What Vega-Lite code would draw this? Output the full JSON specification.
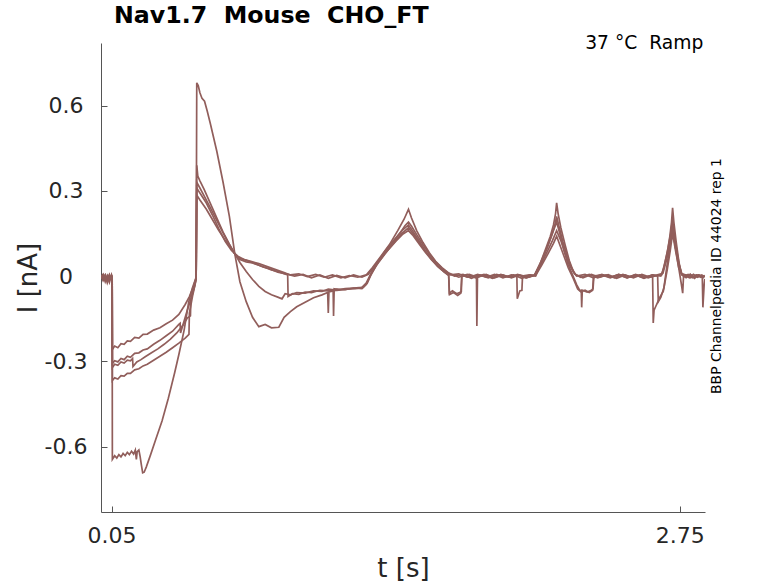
{
  "$schema": "https://vega.github.io/schema/vega-lite/v6.json",
  "autosize": "none",
  "padding": {"left": 101, "top": 43, "right": 73, "bottom": 71},
  "width": 604,
  "height": 469,
  "background": "white",
  "title": {
    "text": "Nav1.7\u00a0 Mouse\u00a0 CHO_FT",
    "anchor": "start",
    "frame": "group",
    "dx": 13,
    "offset": -13,
    "baseline": "alphabetic",
    "font": "DejaVu Sans",
    "fontSize": 23.7,
    "fontWeight": "bold",
    "color": "#000000"
  },
  "config": {
    "view": {"stroke": null},
    "axis": {
      "grid": false,
      "domainColor": "#555555",
      "tickColor": "#555555",
      "tickSize": -6,
      "labelFont": "DejaVu Sans",
      "labelFontSize": 22,
      "labelColor": "#262626",
      "titleFont": "DejaVu Sans",
      "titleFontSize": 26,
      "titleFontWeight": "normal",
      "titleColor": "#262626"
    }
  },
  "datasets": {
    "traces": [
      {"s":"A","t":0,"v":0.002},{"s":"A","t":0.01,"v":-0.012},{"s":"A","t":0.02,"v":0.004},{"s":"A","t":0.03,"v":-0.018},{"s":"A","t":0.04,"v":0.002},{"s":"A","t":0.05,"v":-0.008},{"s":"A","t":0.053,"v":0},
      {"s":"A","t":0.054,"v":-0.258},{"s":"A","t":0.065,"v":-0.246},{"s":"A","t":0.08,"v":-0.252},{"s":"A","t":0.095,"v":-0.238},{"s":"A","t":0.11,"v":-0.24},{"s":"A","t":0.125,"v":-0.228},{"s":"A","t":0.14,"v":-0.23},{"s":"A","t":0.16,"v":-0.216},{"s":"A","t":0.18,"v":-0.218},{"s":"A","t":0.2,"v":-0.205},{"s":"A","t":0.22,"v":-0.204},{"s":"A","t":0.25,"v":-0.19},{"s":"A","t":0.28,"v":-0.182},{"s":"A","t":0.31,"v":-0.168},{"s":"A","t":0.34,"v":-0.155},{"s":"A","t":0.37,"v":-0.135},{"s":"A","t":0.4,"v":-0.1},{"s":"A","t":0.42,"v":-0.072},{"s":"A","t":0.44,"v":-0.035},{"s":"A","t":0.452,"v":-0.005},
      {"s":"A","t":0.455,"v":0.31},{"s":"A","t":0.47,"v":0.292},{"s":"A","t":0.5,"v":0.258},{"s":"A","t":0.53,"v":0.214},{"s":"A","t":0.56,"v":0.166},{"s":"A","t":0.59,"v":0.122},{"s":"A","t":0.62,"v":0.09},{"s":"A","t":0.65,"v":0.07},{"s":"A","t":0.68,"v":0.058},{"s":"A","t":0.71,"v":0.05},{"s":"A","t":0.74,"v":0.042},{"s":"A","t":0.77,"v":0.032},{"s":"A","t":0.8,"v":0.026},{"s":"A","t":0.84,"v":0.014},{"s":"A","t":0.88,"v":0.008},{"s":"A","t":0.92,"v":0},{"s":"A","t":0.96,"v":0.006},{"s":"A","t":1,"v":-0.006},{"s":"A","t":1.04,"v":0.004},{"s":"A","t":1.08,"v":-0.008},{"s":"A","t":1.12,"v":0.002},{"s":"A","t":1.16,"v":-0.006},{"s":"A","t":1.2,"v":0.004},{"s":"A","t":1.24,"v":-0.004},{"s":"A","t":1.27,"v":0.006},
      {"s":"A","t":1.3,"v":0.035},{"s":"A","t":1.34,"v":0.075},{"s":"A","t":1.38,"v":0.112},{"s":"A","t":1.42,"v":0.15},{"s":"A","t":1.445,"v":0.178},{"s":"A","t":1.461,"v":0.19},{"s":"A","t":1.475,"v":0.176},{"s":"A","t":1.5,"v":0.146},{"s":"A","t":1.53,"v":0.11},{"s":"A","t":1.56,"v":0.078},{"s":"A","t":1.59,"v":0.05},{"s":"A","t":1.62,"v":0.028},{"s":"A","t":1.65,"v":0.01},{"s":"A","t":1.68,"v":0},
      {"s":"A","t":1.72,"v":0.006},{"s":"A","t":1.76,"v":-0.008},{"s":"A","t":1.8,"v":0.004},{"s":"A","t":1.84,"v":-0.006},{"s":"A","t":1.88,"v":0.006},{"s":"A","t":1.92,"v":-0.004},{"s":"A","t":1.96,"v":0.004},{"s":"A","t":2,"v":-0.008},{"s":"A","t":2.04,"v":0.004},{"s":"A","t":2.065,"v":0},
      {"s":"A","t":2.09,"v":0.045},{"s":"A","t":2.115,"v":0.09},{"s":"A","t":2.14,"v":0.14},{"s":"A","t":2.155,"v":0.175},{"s":"A","t":2.165,"v":0.21},{"s":"A","t":2.175,"v":0.178},{"s":"A","t":2.195,"v":0.12},{"s":"A","t":2.215,"v":0.07},{"s":"A","t":2.235,"v":0.03},{"s":"A","t":2.255,"v":0.005},
      {"s":"A","t":2.29,"v":-0.006},{"s":"A","t":2.33,"v":0.006},{"s":"A","t":2.37,"v":-0.004},{"s":"A","t":2.41,"v":0.005},{"s":"A","t":2.45,"v":-0.008},{"s":"A","t":2.49,"v":0.004},{"s":"A","t":2.53,"v":-0.006},{"s":"A","t":2.57,"v":0.006},{"s":"A","t":2.61,"v":-0.004},{"s":"A","t":2.65,"v":0.003},{"s":"A","t":2.665,"v":0.005},
      {"s":"A","t":2.68,"v":0.05},{"s":"A","t":2.695,"v":0.1},{"s":"A","t":2.707,"v":0.15},{"s":"A","t":2.716,"v":0.2},{"s":"A","t":2.725,"v":0.14},{"s":"A","t":2.738,"v":0.08},{"s":"A","t":2.75,"v":0.03},{"s":"A","t":2.76,"v":0.005},{"s":"A","t":2.78,"v":-0.006},{"s":"A","t":2.8,"v":0.006},{"s":"A","t":2.82,"v":-0.008},{"s":"A","t":2.84,"v":0.004},{"s":"A","t":2.86,"v":-0.006},{"s":"A","t":2.868,"v":0},

      {"s":"B","t":0,"v":-0.004},{"s":"B","t":0.01,"v":0.006},{"s":"B","t":0.02,"v":-0.014},{"s":"B","t":0.03,"v":0},{"s":"B","t":0.04,"v":-0.022},{"s":"B","t":0.05,"v":0.004},{"s":"B","t":0.053,"v":-0.004},
      {"s":"B","t":0.054,"v":-0.308},{"s":"B","t":0.065,"v":-0.298},{"s":"B","t":0.08,"v":-0.302},{"s":"B","t":0.095,"v":-0.29},{"s":"B","t":0.11,"v":-0.294},{"s":"B","t":0.125,"v":-0.282},{"s":"B","t":0.14,"v":-0.286},{"s":"B","t":0.16,"v":-0.272},{"s":"B","t":0.18,"v":-0.27},{"s":"B","t":0.2,"v":-0.26},{"s":"B","t":0.22,"v":-0.256},{"s":"B","t":0.25,"v":-0.24},{"s":"B","t":0.28,"v":-0.226},{"s":"B","t":0.31,"v":-0.21},{"s":"B","t":0.34,"v":-0.194},{"s":"B","t":0.37,"v":-0.17},{"s":"B","t":0.376,"v":-0.166},{"s":"B","t":0.378,"v":-0.2},{"s":"B","t":0.39,"v":-0.17},{"s":"B","t":0.41,"v":-0.12},{"s":"B","t":0.43,"v":-0.075},{"s":"B","t":0.445,"v":-0.035},{"s":"B","t":0.452,"v":-0.008},
      {"s":"B","t":0.455,"v":0.39},{"s":"B","t":0.46,"v":0.352},{"s":"B","t":0.47,"v":0.335},{"s":"B","t":0.49,"v":0.305},{"s":"B","t":0.52,"v":0.255},{"s":"B","t":0.55,"v":0.205},{"s":"B","t":0.58,"v":0.155},{"s":"B","t":0.61,"v":0.112},{"s":"B","t":0.636,"v":0.078},{"s":"B","t":0.66,"v":0.062},{"s":"B","t":0.69,"v":0.056},{"s":"B","t":0.72,"v":0.05},{"s":"B","t":0.75,"v":0.044},{"s":"B","t":0.78,"v":0.036},{"s":"B","t":0.81,"v":0.028},{"s":"B","t":0.84,"v":0.02},{"s":"B","t":0.87,"v":0.012},{"s":"B","t":0.9,"v":0.004},{"s":"B","t":0.94,"v":0.008},{"s":"B","t":0.98,"v":-0.002},{"s":"B","t":1.02,"v":0.006},{"s":"B","t":1.06,"v":-0.004},{"s":"B","t":1.1,"v":0.004},{"s":"B","t":1.14,"v":-0.006},{"s":"B","t":1.18,"v":0.002},{"s":"B","t":1.22,"v":-0.004},{"s":"B","t":1.26,"v":0.004},
      {"s":"B","t":1.29,"v":0.03},{"s":"B","t":1.33,"v":0.07},{"s":"B","t":1.37,"v":0.11},{"s":"B","t":1.41,"v":0.16},{"s":"B","t":1.44,"v":0.2},{"s":"B","t":1.461,"v":0.235},{"s":"B","t":1.475,"v":0.205},{"s":"B","t":1.5,"v":0.16},{"s":"B","t":1.53,"v":0.118},{"s":"B","t":1.56,"v":0.082},{"s":"B","t":1.59,"v":0.052},{"s":"B","t":1.62,"v":0.03},{"s":"B","t":1.65,"v":0.012},{"s":"B","t":1.68,"v":0.002},
      {"s":"B","t":1.7,"v":-0.004},{"s":"B","t":1.74,"v":0.006},{"s":"B","t":1.78,"v":-0.006},{"s":"B","t":1.82,"v":0.004},{"s":"B","t":1.86,"v":-0.008},{"s":"B","t":1.9,"v":0.004},{"s":"B","t":1.94,"v":-0.004},{"s":"B","t":1.98,"v":0.006},{"s":"B","t":2.02,"v":-0.006},{"s":"B","t":2.06,"v":0.002},
      {"s":"B","t":2.085,"v":0.04},{"s":"B","t":2.11,"v":0.09},{"s":"B","t":2.135,"v":0.14},{"s":"B","t":2.15,"v":0.18},{"s":"B","t":2.16,"v":0.22},{"s":"B","t":2.165,"v":0.258},{"s":"B","t":2.172,"v":0.22},{"s":"B","t":2.185,"v":0.17},{"s":"B","t":2.205,"v":0.11},{"s":"B","t":2.225,"v":0.055},{"s":"B","t":2.245,"v":0.015},{"s":"B","t":2.26,"v":0},
      {"s":"B","t":2.3,"v":0.006},{"s":"B","t":2.34,"v":-0.006},{"s":"B","t":2.38,"v":0.004},{"s":"B","t":2.42,"v":-0.004},{"s":"B","t":2.46,"v":0.006},{"s":"B","t":2.5,"v":-0.006},{"s":"B","t":2.54,"v":0.004},{"s":"B","t":2.58,"v":-0.008},{"s":"B","t":2.62,"v":0.004},{"s":"B","t":2.66,"v":0},
      {"s":"B","t":2.675,"v":0.03},{"s":"B","t":2.69,"v":0.08},{"s":"B","t":2.703,"v":0.14},{"s":"B","t":2.711,"v":0.19},{"s":"B","t":2.716,"v":0.24},{"s":"B","t":2.722,"v":0.19},{"s":"B","t":2.733,"v":0.12},{"s":"B","t":2.746,"v":0.05},{"s":"B","t":2.758,"v":0.008},{"s":"B","t":2.775,"v":0.004},{"s":"B","t":2.795,"v":-0.006},{"s":"B","t":2.815,"v":0.006},{"s":"B","t":2.835,"v":-0.004},{"s":"B","t":2.855,"v":0.004},{"s":"B","t":2.868,"v":-0.002},

      {"s":"C","t":0,"v":0.004},{"s":"C","t":0.01,"v":-0.016},{"s":"C","t":0.02,"v":0},{"s":"C","t":0.03,"v":-0.01},{"s":"C","t":0.04,"v":0.006},{"s":"C","t":0.05,"v":-0.014},{"s":"C","t":0.053,"v":0},
      {"s":"C","t":0.054,"v":-0.322},{"s":"C","t":0.065,"v":-0.31},{"s":"C","t":0.08,"v":-0.314},{"s":"C","t":0.095,"v":-0.302},{"s":"C","t":0.11,"v":-0.306},{"s":"C","t":0.125,"v":-0.296},{"s":"C","t":0.14,"v":-0.298},{"s":"C","t":0.15,"v":-0.29},{"s":"C","t":0.152,"v":-0.318},{"s":"C","t":0.17,"v":-0.302},{"s":"C","t":0.19,"v":-0.294},{"s":"C","t":0.21,"v":-0.284},{"s":"C","t":0.24,"v":-0.27},{"s":"C","t":0.27,"v":-0.256},{"s":"C","t":0.3,"v":-0.24},{"s":"C","t":0.33,"v":-0.222},{"s":"C","t":0.36,"v":-0.2},{"s":"C","t":0.39,"v":-0.172},{"s":"C","t":0.41,"v":-0.148},{"s":"C","t":0.425,"v":-0.14},{"s":"C","t":0.427,"v":-0.08},{"s":"C","t":0.44,"v":-0.045},{"s":"C","t":0.452,"v":-0.01},
      {"s":"C","t":0.455,"v":0.33},{"s":"C","t":0.47,"v":0.31},{"s":"C","t":0.49,"v":0.282},{"s":"C","t":0.52,"v":0.24},{"s":"C","t":0.55,"v":0.196},{"s":"C","t":0.58,"v":0.152},{"s":"C","t":0.61,"v":0.11},{"s":"C","t":0.636,"v":0.078},{"s":"C","t":0.66,"v":0.058},{"s":"C","t":0.69,"v":0.05},{"s":"C","t":0.72,"v":0.046},{"s":"C","t":0.75,"v":0.038},{"s":"C","t":0.78,"v":0.03},{"s":"C","t":0.81,"v":0.022},{"s":"C","t":0.84,"v":0.016},{"s":"C","t":0.87,"v":0.008},{"s":"C","t":0.887,"v":0.004},
      {"s":"C","t":0.889,"v":-0.072},{"s":"C","t":0.91,"v":-0.062},{"s":"C","t":0.94,"v":-0.064},{"s":"C","t":0.97,"v":-0.056},{"s":"C","t":1,"v":-0.058},{"s":"C","t":1.04,"v":-0.05},{"s":"C","t":1.08,"v":-0.052},{"s":"C","t":1.12,"v":-0.046},{"s":"C","t":1.16,"v":-0.048},{"s":"C","t":1.2,"v":-0.042},{"s":"C","t":1.24,"v":-0.044},{"s":"C","t":1.26,"v":-0.03},
      {"s":"C","t":1.28,"v":0},{"s":"C","t":1.31,"v":0.04},{"s":"C","t":1.35,"v":0.08},{"s":"C","t":1.39,"v":0.115},{"s":"C","t":1.43,"v":0.15},{"s":"C","t":1.461,"v":0.17},{"s":"C","t":1.48,"v":0.152},{"s":"C","t":1.51,"v":0.12},{"s":"C","t":1.54,"v":0.088},{"s":"C","t":1.57,"v":0.06},{"s":"C","t":1.6,"v":0.036},{"s":"C","t":1.63,"v":0.018},{"s":"C","t":1.66,"v":0.004},
      {"s":"C","t":1.7,"v":0.008},{"s":"C","t":1.74,"v":-0.004},{"s":"C","t":1.784,"v":0.002},{"s":"C","t":1.786,"v":-0.176},{"s":"C","t":1.789,"v":0},{"s":"C","t":1.82,"v":0.006},{"s":"C","t":1.86,"v":-0.006},{"s":"C","t":1.9,"v":0.006},{"s":"C","t":1.94,"v":-0.004},{"s":"C","t":1.98,"v":0.004},{"s":"C","t":2.02,"v":-0.006},{"s":"C","t":2.06,"v":0.004},
      {"s":"C","t":2.09,"v":0.04},{"s":"C","t":2.12,"v":0.085},{"s":"C","t":2.145,"v":0.125},{"s":"C","t":2.165,"v":0.16},{"s":"C","t":2.185,"v":0.125},{"s":"C","t":2.205,"v":0.08},{"s":"C","t":2.225,"v":0.04},{"s":"C","t":2.25,"v":0.008},
      {"s":"C","t":2.28,"v":-0.004},{"s":"C","t":2.32,"v":0.006},{"s":"C","t":2.36,"v":-0.006},{"s":"C","t":2.4,"v":0.004},{"s":"C","t":2.44,"v":-0.006},{"s":"C","t":2.48,"v":0.006},{"s":"C","t":2.52,"v":-0.004},{"s":"C","t":2.56,"v":0.004},{"s":"C","t":2.6,"v":-0.006},{"s":"C","t":2.64,"v":0.004},{"s":"C","t":2.67,"v":0.01},
      {"s":"C","t":2.685,"v":0.05},{"s":"C","t":2.7,"v":0.1},{"s":"C","t":2.716,"v":0.16},{"s":"C","t":2.73,"v":0.1},{"s":"C","t":2.745,"v":0.045},{"s":"C","t":2.76,"v":0.008},{"s":"C","t":2.78,"v":0.004},{"s":"C","t":2.8,"v":-0.006},{"s":"C","t":2.83,"v":0.004},{"s":"C","t":2.857,"v":0},{"s":"C","t":2.86,"v":-0.11},{"s":"C","t":2.866,"v":-0.03},{"s":"C","t":2.869,"v":-0.01},

      {"s":"D","t":0,"v":-0.008},{"s":"D","t":0.01,"v":0.004},{"s":"D","t":0.02,"v":-0.02},{"s":"D","t":0.03,"v":0.002},{"s":"D","t":0.04,"v":-0.012},{"s":"D","t":0.05,"v":0.002},{"s":"D","t":0.053,"v":-0.006},
      {"s":"D","t":0.054,"v":-0.368},{"s":"D","t":0.065,"v":-0.358},{"s":"D","t":0.08,"v":-0.362},{"s":"D","t":0.095,"v":-0.35},{"s":"D","t":0.11,"v":-0.352},{"s":"D","t":0.125,"v":-0.342},{"s":"D","t":0.14,"v":-0.342},{"s":"D","t":0.16,"v":-0.33},{"s":"D","t":0.18,"v":-0.326},{"s":"D","t":0.2,"v":-0.316},{"s":"D","t":0.22,"v":-0.31},{"s":"D","t":0.25,"v":-0.296},{"s":"D","t":0.28,"v":-0.282},{"s":"D","t":0.31,"v":-0.268},{"s":"D","t":0.34,"v":-0.252},{"s":"D","t":0.37,"v":-0.236},{"s":"D","t":0.4,"v":-0.218},{"s":"D","t":0.418,"v":-0.205},{"s":"D","t":0.42,"v":-0.13},{"s":"D","t":0.435,"v":-0.07},{"s":"D","t":0.447,"v":-0.03},{"s":"D","t":0.452,"v":-0.01},
      {"s":"D","t":0.455,"v":0.285},{"s":"D","t":0.47,"v":0.268},{"s":"D","t":0.5,"v":0.236},{"s":"D","t":0.53,"v":0.198},{"s":"D","t":0.56,"v":0.16},{"s":"D","t":0.59,"v":0.126},{"s":"D","t":0.62,"v":0.096},{"s":"D","t":0.636,"v":0.078},{"s":"D","t":0.66,"v":0.048},{"s":"D","t":0.69,"v":0.016},{"s":"D","t":0.72,"v":-0.012},{"s":"D","t":0.75,"v":-0.036},{"s":"D","t":0.78,"v":-0.054},{"s":"D","t":0.81,"v":-0.066},{"s":"D","t":0.84,"v":-0.074},{"s":"D","t":0.86,"v":-0.08},{"s":"D","t":0.875,"v":-0.062},{"s":"D","t":0.9,"v":-0.066},{"s":"D","t":0.93,"v":-0.058},{"s":"D","t":0.97,"v":-0.06},{"s":"D","t":1.01,"v":-0.052},{"s":"D","t":1.05,"v":-0.054},{"s":"D","t":1.08,"v":-0.046},{"s":"D","t":1.103,"v":-0.048},{"s":"D","t":1.105,"v":-0.14},{"s":"D","t":1.108,"v":-0.045},{"s":"D","t":1.13,"v":-0.048},{"s":"D","t":1.16,"v":-0.044},{"s":"D","t":1.2,"v":-0.042},{"s":"D","t":1.24,"v":-0.04},{"s":"D","t":1.26,"v":-0.025},
      {"s":"D","t":1.28,"v":0.005},{"s":"D","t":1.31,"v":0.045},{"s":"D","t":1.35,"v":0.088},{"s":"D","t":1.39,"v":0.125},{"s":"D","t":1.43,"v":0.16},{"s":"D","t":1.461,"v":0.18},{"s":"D","t":1.48,"v":0.16},{"s":"D","t":1.51,"v":0.125},{"s":"D","t":1.54,"v":0.09},{"s":"D","t":1.57,"v":0.06},{"s":"D","t":1.6,"v":0.034},{"s":"D","t":1.63,"v":0.015},{"s":"D","t":1.652,"v":0.002},
      {"s":"D","t":1.655,"v":-0.06},{"s":"D","t":1.67,"v":-0.052},{"s":"D","t":1.69,"v":-0.062},{"s":"D","t":1.712,"v":-0.055},{"s":"D","t":1.715,"v":0},{"s":"D","t":1.75,"v":0.006},{"s":"D","t":1.79,"v":-0.004},{"s":"D","t":1.83,"v":0.006},{"s":"D","t":1.87,"v":-0.006},{"s":"D","t":1.91,"v":0.004},{"s":"D","t":1.95,"v":-0.006},{"s":"D","t":1.99,"v":0.004},{"s":"D","t":2.03,"v":-0.004},{"s":"D","t":2.06,"v":0.004},
      {"s":"D","t":2.09,"v":0.05},{"s":"D","t":2.12,"v":0.1},{"s":"D","t":2.145,"v":0.15},{"s":"D","t":2.165,"v":0.19},{"s":"D","t":2.18,"v":0.15},{"s":"D","t":2.2,"v":0.09},{"s":"D","t":2.22,"v":0.04},{"s":"D","t":2.24,"v":0.005},{"s":"D","t":2.26,"v":-0.03},{"s":"D","t":2.275,"v":-0.05},{"s":"D","t":2.282,"v":-0.05},{"s":"D","t":2.284,"v":-0.11},{"s":"D","t":2.287,"v":-0.05},{"s":"D","t":2.31,"v":-0.056},{"s":"D","t":2.33,"v":-0.05},{"s":"D","t":2.338,"v":-0.045},{"s":"D","t":2.342,"v":0},
      {"s":"D","t":2.38,"v":0.004},{"s":"D","t":2.42,"v":-0.006},{"s":"D","t":2.46,"v":0.006},{"s":"D","t":2.5,"v":-0.004},{"s":"D","t":2.54,"v":0.004},{"s":"D","t":2.58,"v":-0.006},{"s":"D","t":2.62,"v":0.004},{"s":"D","t":2.645,"v":0},{"s":"D","t":2.648,"v":-0.09},{"s":"D","t":2.66,"v":-0.075},{"s":"D","t":2.675,"v":-0.04},
      {"s":"D","t":2.688,"v":0.03},{"s":"D","t":2.7,"v":0.09},{"s":"D","t":2.716,"v":0.18},{"s":"D","t":2.73,"v":0.1},{"s":"D","t":2.745,"v":0.03},{"s":"D","t":2.758,"v":-0.03},{"s":"D","t":2.764,"v":-0.06},{"s":"D","t":2.768,"v":0},{"s":"D","t":2.79,"v":0.006},{"s":"D","t":2.81,"v":-0.006},{"s":"D","t":2.83,"v":0.004},{"s":"D","t":2.85,"v":-0.004},{"s":"D","t":2.869,"v":0.002},

      {"s":"E","t":0,"v":0},{"s":"E","t":0.01,"v":-0.006},{"s":"E","t":0.02,"v":0.004},{"s":"E","t":0.03,"v":-0.024},{"s":"E","t":0.04,"v":-0.004},{"s":"E","t":0.05,"v":-0.01},{"s":"E","t":0.053,"v":0.002},
      {"s":"E","t":0.054,"v":-0.645},{"s":"E","t":0.065,"v":-0.632},{"s":"E","t":0.075,"v":-0.64},{"s":"E","t":0.085,"v":-0.628},{"s":"E","t":0.095,"v":-0.636},{"s":"E","t":0.105,"v":-0.624},{"s":"E","t":0.115,"v":-0.632},{"s":"E","t":0.125,"v":-0.62},{"s":"E","t":0.135,"v":-0.628},{"s":"E","t":0.145,"v":-0.616},{"s":"E","t":0.155,"v":-0.626},{"s":"E","t":0.163,"v":-0.612},{"s":"E","t":0.168,"v":-0.645},{"s":"E","t":0.172,"v":-0.618},{"s":"E","t":0.18,"v":-0.612},{"s":"E","t":0.186,"v":-0.635},{"s":"E","t":0.192,"v":-0.665},{"s":"E","t":0.198,"v":-0.692},{"s":"E","t":0.205,"v":-0.69},{"s":"E","t":0.215,"v":-0.672},{"s":"E","t":0.235,"v":-0.63},{"s":"E","t":0.26,"v":-0.575},{"s":"E","t":0.29,"v":-0.51},{"s":"E","t":0.32,"v":-0.43},{"s":"E","t":0.35,"v":-0.34},{"s":"E","t":0.37,"v":-0.276},{"s":"E","t":0.395,"v":-0.19},{"s":"E","t":0.417,"v":-0.09},{"s":"E","t":0.435,"v":-0.04},{"s":"E","t":0.452,"v":-0.005},
      {"s":"E","t":0.455,"v":0.68},{"s":"E","t":0.462,"v":0.67},{"s":"E","t":0.47,"v":0.645},{"s":"E","t":0.48,"v":0.625},{"s":"E","t":0.492,"v":0.615},{"s":"E","t":0.505,"v":0.58},{"s":"E","t":0.52,"v":0.535},{"s":"E","t":0.55,"v":0.44},{"s":"E","t":0.58,"v":0.33},{"s":"E","t":0.61,"v":0.21},{"s":"E","t":0.636,"v":0.077},{"s":"E","t":0.66,"v":-0.02},{"s":"E","t":0.69,"v":-0.09},{"s":"E","t":0.72,"v":-0.145},{"s":"E","t":0.75,"v":-0.178},{"s":"E","t":0.78,"v":-0.17},{"s":"E","t":0.81,"v":-0.182},{"s":"E","t":0.845,"v":-0.18},{"s":"E","t":0.87,"v":-0.145},{"s":"E","t":0.9,"v":-0.125},{"s":"E","t":0.93,"v":-0.108},{"s":"E","t":0.97,"v":-0.092},{"s":"E","t":1.01,"v":-0.076},{"s":"E","t":1.05,"v":-0.066},{"s":"E","t":1.077,"v":-0.058},{"s":"E","t":1.08,"v":-0.13},{"s":"E","t":1.083,"v":-0.056},{"s":"E","t":1.12,"v":-0.05},{"s":"E","t":1.17,"v":-0.046},{"s":"E","t":1.21,"v":-0.044},{"s":"E","t":1.245,"v":-0.04},{"s":"E","t":1.265,"v":-0.025},
      {"s":"E","t":1.285,"v":0.01},{"s":"E","t":1.32,"v":0.05},{"s":"E","t":1.36,"v":0.088},{"s":"E","t":1.4,"v":0.122},{"s":"E","t":1.435,"v":0.148},{"s":"E","t":1.461,"v":0.16},{"s":"E","t":1.48,"v":0.145},{"s":"E","t":1.51,"v":0.115},{"s":"E","t":1.54,"v":0.085},{"s":"E","t":1.57,"v":0.058},{"s":"E","t":1.6,"v":0.034},{"s":"E","t":1.63,"v":0.015},{"s":"E","t":1.652,"v":0.004},
      {"s":"E","t":1.656,"v":-0.065},{"s":"E","t":1.675,"v":-0.058},{"s":"E","t":1.695,"v":-0.068},{"s":"E","t":1.71,"v":-0.06},{"s":"E","t":1.714,"v":0.002},{"s":"E","t":1.75,"v":-0.004},{"s":"E","t":1.79,"v":0.006},{"s":"E","t":1.83,"v":-0.004},{"s":"E","t":1.87,"v":0.006},{"s":"E","t":1.91,"v":-0.006},{"s":"E","t":1.95,"v":0.004},{"s":"E","t":1.976,"v":0},{"s":"E","t":1.978,"v":-0.08},{"s":"E","t":1.99,"v":-0.052},{"s":"E","t":2,"v":-0.05},{"s":"E","t":2.003,"v":0},{"s":"E","t":2.035,"v":0.004},{"s":"E","t":2.065,"v":0.002},
      {"s":"E","t":2.095,"v":0.04},{"s":"E","t":2.125,"v":0.08},{"s":"E","t":2.15,"v":0.115},{"s":"E","t":2.165,"v":0.14},{"s":"E","t":2.18,"v":0.11},{"s":"E","t":2.2,"v":0.07},{"s":"E","t":2.22,"v":0.03},{"s":"E","t":2.245,"v":-0.01},{"s":"E","t":2.265,"v":-0.045},{"s":"E","t":2.28,"v":-0.055},{"s":"E","t":2.3,"v":-0.05},{"s":"E","t":2.32,"v":-0.058},{"s":"E","t":2.336,"v":-0.05},{"s":"E","t":2.34,"v":-0.004},
      {"s":"E","t":2.38,"v":0.006},{"s":"E","t":2.42,"v":-0.004},{"s":"E","t":2.46,"v":0.004},{"s":"E","t":2.5,"v":-0.006},{"s":"E","t":2.54,"v":0.006},{"s":"E","t":2.58,"v":-0.004},{"s":"E","t":2.621,"v":0.002},{"s":"E","t":2.624,"v":-0.165},{"s":"E","t":2.628,"v":-0.12},{"s":"E","t":2.64,"v":-0.1},{"s":"E","t":2.655,"v":-0.075},{"s":"E","t":2.672,"v":-0.053},
      {"s":"E","t":2.69,"v":0.02},{"s":"E","t":2.705,"v":0.09},{"s":"E","t":2.716,"v":0.15},{"s":"E","t":2.73,"v":0.09},{"s":"E","t":2.745,"v":0.03},{"s":"E","t":2.76,"v":0.004},{"s":"E","t":2.78,"v":-0.004},{"s":"E","t":2.8,"v":0.006},{"s":"E","t":2.82,"v":-0.006},{"s":"E","t":2.84,"v":0.004},{"s":"E","t":2.869,"v":-0.002}
    ],
    "notes": [
      {"where": "top", "label": "37 °C\u00a0 Ramp"},
      {"where": "side", "label": "BBP Channelpedia ID 44024 rep 1"}
    ]
  },
  "layer": [
    {
      "data": {"name": "traces"},
      "mark": {"type": "line", "color": "#915e5b", "strokeWidth": 1.7, "clip": true},
      "encoding": {
        "x": {
          "field": "t",
          "type": "quantitative",
          "title": "t [s]",
          "scale": {"domain": [0, 2.87], "nice": false, "zero": false},
          "axis": {"values": [0.05, 2.75], "labelExpr": "'' + datum.value", "labelPadding": 19, "titlePadding": 9, "labelFlush": false}
        },
        "y": {
          "field": "v",
          "type": "quantitative",
          "title": "I [nA]",
          "scale": {"domain": [-0.83, 0.82], "nice": false, "zero": false},
          "axis": {"values": [-0.6, -0.3, 0, 0.3, 0.6], "labelExpr": "'' + datum.value", "labelAlign": "center", "labelBaseline": "middle", "labelPadding": 41.5, "titlePadding": 3}
        },
        "detail": {"field": "s", "type": "nominal"}
      }
    },
    {
      "data": {"name": "notes"},
      "transform": [{"filter": "datum.where == 'top'"}],
      "mark": {"type": "text", "align": "right", "baseline": "alphabetic", "font": "DejaVu Sans", "fontSize": 18.7, "color": "#000000"},
      "encoding": {
        "x": {"datum": 2.862, "type": "quantitative"},
        "y": {"datum": 0.8, "type": "quantitative"},
        "text": {"field": "label", "type": "nominal"}
      }
    },
    {
      "data": {"name": "notes"},
      "transform": [{"filter": "datum.where == 'side'"}],
      "mark": {"type": "text", "align": "center", "baseline": "alphabetic", "angle": 270, "font": "DejaVu Sans", "fontSize": 13.9, "color": "#000000"},
      "encoding": {
        "x": {"datum": 2.944, "type": "quantitative"},
        "y": {"datum": 0.0, "type": "quantitative"},
        "text": {"field": "label", "type": "nominal"}
      }
    }
  ]
}
